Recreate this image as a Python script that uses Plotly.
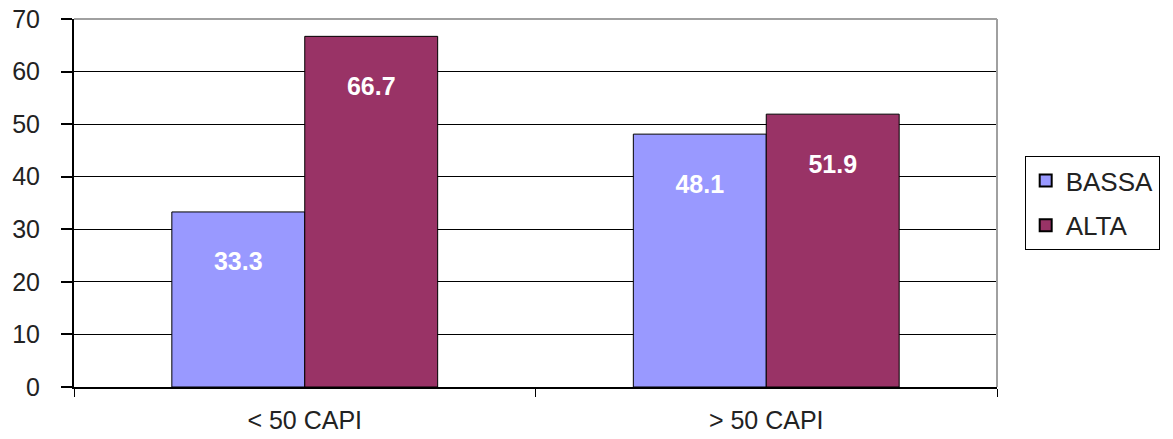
import plotly.graph_objects as go

categories = ["< 50 CAPI", "> 50 CAPI"]
bassa = [33.3, 48.1]
alta = [66.7, 51.9]
series_names = ["BASSA", "ALTA"]
y_ticks = [0, 10, 20, 30, 40, 50, 60, 70]

FONT = "Liberation Sans, Arial, sans-serif"

fig = go.Figure()
for name, vals, color in [(series_names[0], bassa, "#9999FF"), (series_names[1], alta, "#993366")]:
    fig.add_trace(go.Bar(
        name=name, x=categories, y=vals, legendgroup=name,
        marker=dict(color=color, line=dict(color="#000000", width=1)),
        text=[f"{v:.1f}" for v in vals],
        texttemplate="&nbsp;<br><b>%{text}</b>",
        textposition="inside", insidetextanchor="end",
        textfont=dict(family=FONT, size=25, color="white"),
        textangle=0,
    ))

fig.update_layout(
    barmode="group", bargap=0.424, bargroupgap=0,
    width=1173, height=439,
    margin=dict(l=74, r=176, t=19, b=52),
    paper_bgcolor="white", plot_bgcolor="white",
    font=dict(family=FONT, size=25, color="#222222"),
    showlegend=True,
    legend=dict(x=1.03, y=0.5, xanchor="left", yanchor="middle",
                bordercolor="#000000", borderwidth=1,
                font=dict(family=FONT, size=26, color="#222222"),
                itemsizing="constant", tracegroupgap=8),
    uniformtext=dict(mode=False),
)
fig.update_yaxes(range=[0, 70], tickvals=y_ticks, showgrid=True, gridcolor="#000000", gridwidth=1,
                 showline=True, linecolor="#000000", linewidth=2, ticks="outside", ticklen=11,
                 tickcolor="#000000", tickwidth=2, zeroline=False, ticklabelstandoff=16,
                 ticklabeloverflow="allow", automargin=False)
fig.update_xaxes(showline=True, linecolor="#000000", linewidth=2, ticks="outside", ticklen=8,
                 tickcolor="#000000", tickwidth=1, tickson="boundaries", showgrid=False,
                 ticklabelstandoff=10, ticklabeloverflow="allow", automargin=False)
fig.add_shape(type="line", xref="paper", yref="paper", x0=0, x1=1, y0=1, y1=1,
              line=dict(color="#A0A0A0", width=2), layer="above")
fig.add_shape(type="line", xref="paper", yref="paper", x0=1, x1=1, y0=0, y1=1,
              line=dict(color="#A0A0A0", width=2), layer="above")

fig.write_html("out.html", config={"displayModeBar": False},
               post_script="document.body.style.margin='0';document.body.style.overflow='hidden';")
